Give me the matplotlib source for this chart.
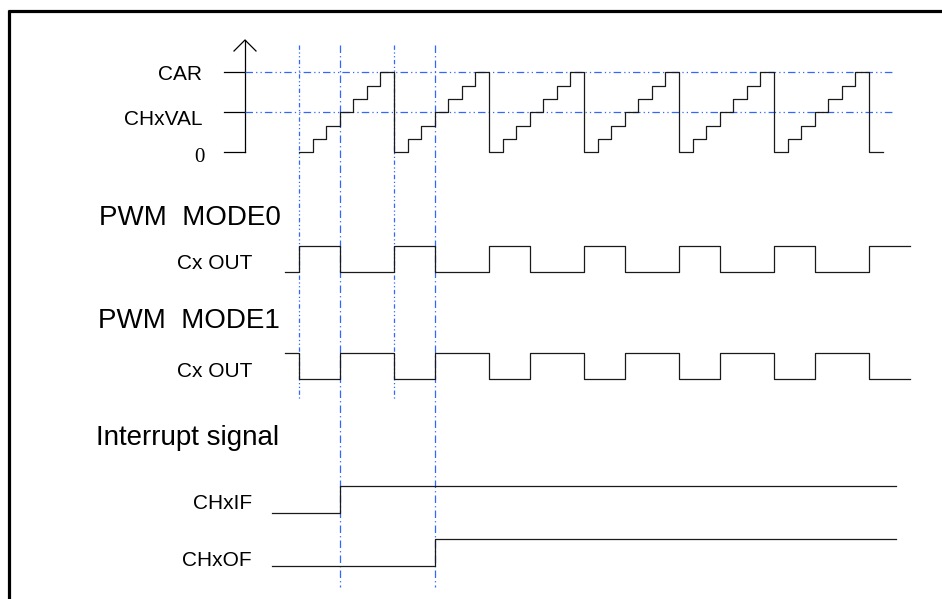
import numpy as np
import matplotlib.pyplot as plt

# timing diagram: time in counter steps, one PWM period = 7 steps
counter_period = [0, 1, 2, 3, 4, 5, 6]
n_periods = 6
counter_tail = [0]
CHXVAL = 3
CAR = 6
level_labels = ['0', 'CHxVAL', 'CAR']
level_values = [0, CHXVAL, CAR]

mode0_period = [1, 1, 1, 0, 0, 0, 0]
mode0_head, mode0_tail = [0], [1, 1, 1]
mode1_period = [0, 0, 0, 1, 1, 1, 1]
mode1_head, mode1_tail = [1], [0, 0, 0]

chxif_t = [-2, 3, 44]
chxif_v = [0, 1, 1]
chxof_t = [-2, 10, 44]
chxof_v = [0, 1, 1]

guide_t = [0, 3, 7, 10]
guide_long = [False, True, False, True]

# layout (pixels)
X0 = 299.0
STEP = 95.0 / 7


def T(px):
    return (px - X0) / STEP


BLUE = '#3068ff'
INK = '#1a1a1a'
SANS = 'Liberation Sans'

fig = plt.figure(figsize=(9.42, 5.99), dpi=100)
ax = fig.add_axes([0, 0, 1, 1])
ax.set_xlim(T(0), T(942))
ax.set_ylim(599, 0)
ax.axis('off')


def draw_steps(t0, vals, base, h):
    t = np.arange(t0, t0 + len(vals) + 1)
    v = np.r_[vals, vals[-1]]
    ax.step(t, base - v * h, where='post', color=INK, lw=0.9)


# frame (top and left only)
ax.plot([T(8), T(942)], [11, 11], color='black', lw=2.3, solid_capstyle='butt')
ax.plot([T(9), T(9)], [10, 599], color='black', lw=2.3, solid_capstyle='butt')

# counter axis
CNT_BASE, CNT_H = 152.3, 40.0 / 3
ax.plot([T(245), T(245)], [CNT_BASE, 40], color='black', lw=0.9)
ax.plot([T(234), T(245), T(256)], [51, 40, 51], color='black', lw=0.9)
for lab, lv in zip(level_labels, level_values):
    y = CNT_BASE - lv * CNT_H
    ax.plot([T(224), T(245)], [y, y], color='black', lw=0.9)
    if lab == '0':
        ax.text(T(205), 162.5, lab, ha='right', va='baseline', fontsize=15,
                family='Liberation Serif')
    else:
        ax.text(T(202), y + (7.5 if lv == CAR else 13.0), lab, ha='right',
                va='baseline', fontsize=15, family=SANS)
    if lv > 0:
        ax.plot([T(245), T(892)], [y, y], color=BLUE, lw=0.9,
                dashes=(6, 2.5, 1, 2.5, 1, 2.5))

# vertical guides
for gt, lng in zip(guide_t, guide_long):
    if lng:
        ax.plot([gt, gt], [45, 587], color=BLUE, lw=0.9, dashes=(6, 2.5, 1, 2.5))
    else:
        ax.plot([gt, gt], [45, 400], color=BLUE, lw=0.9,
                dashes=(3.5, 2, 1, 2, 1, 2))

# counter staircase
counter = counter_period * n_periods + counter_tail
draw_steps(0, counter, CNT_BASE, CNT_H)

# PWM outputs
mode0 = mode0_head + mode0_period * n_periods + mode0_tail
mode1 = mode1_head + mode1_period * n_periods + mode1_tail
draw_steps(-1, mode0, 271.7, 25.7)
draw_steps(-1, mode1, 379.0, 26.3)

ax.text(T(99), 225, 'PWM  MODE0', ha='left', va='baseline', fontsize=20, family=SANS)
ax.text(T(252), 269, 'Cx OUT', ha='right', va='baseline', fontsize=15, family=SANS)
ax.text(T(98), 328.3, 'PWM  MODE1', ha='left', va='baseline', fontsize=20, family=SANS)
ax.text(T(252), 376.7, 'Cx OUT', ha='right', va='baseline', fontsize=15, family=SANS)

# interrupt flags
ax.text(T(96), 445, 'Interrupt signal', ha='left', va='baseline', fontsize=20, family=SANS)
ax.step(chxif_t, 512.7 - np.array(chxif_v) * 26.7, where='post', color=INK, lw=0.9)
ax.step(chxof_t, 566.0 - np.array(chxof_v) * 26.7, where='post', color=INK, lw=0.9)
ax.text(T(252), 509.3, 'CHxIF', ha='right', va='baseline', fontsize=15, family=SANS)
ax.text(T(252), 566, 'CHxOF', ha='right', va='baseline', fontsize=15, family=SANS)

fig.savefig('out.png', dpi=100)
